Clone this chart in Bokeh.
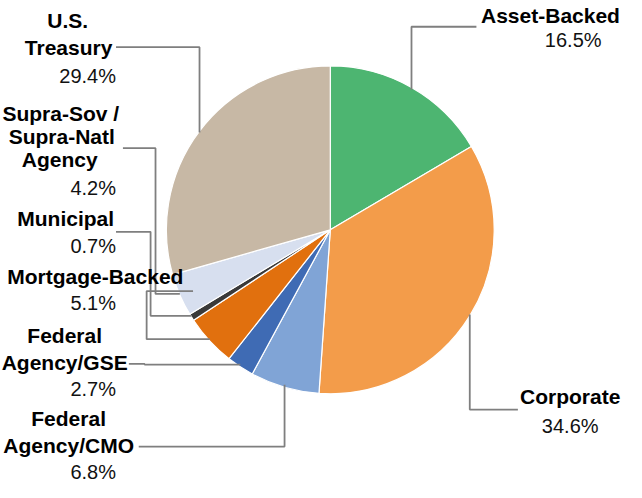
import math
from bokeh.plotting import figure
from bokeh.models import Range1d, ColumnDataSource
from bokeh.core.properties import value
from bokeh.embed import file_html
from bokeh.resources import INLINE

# ---- data ----
categories = ["Asset-Backed", "Corporate", "Federal Agency/CMO", "Federal Agency/GSE",
              "Mortgage-Backed", "Municipal", "Supra-Sov / Supra-Natl Agency", "U.S. Treasury"]
shares = [16.5, 34.6, 6.8, 2.7, 5.1, 0.7, 4.2, 29.4]
name_lines = [["Asset-Backed"], ["Corporate"], ["Federal", "Agency/CMO"], ["Federal", "Agency/GSE"],
              ["Mortgage-Backed"], ["Municipal"], ["Supra-Sov /", "Supra-Natl", "Agency"],
              ["U.S.", "Treasury"]]
colors = ["#4DB571", "#F39C4A", "#80A4D6", "#3F6BB4", "#E1700E", "#3A3A3A", "#D7DFEF", "#C7B8A5"]

# ---- layout (reference pixel coords, y downward) ----
CX, CY, R = 342, 236, 166
H = 498
TDY = -7  # baseline correction for text placement
def Y(s):
    return H - s

name_pos = [
    [(565, 22)],
    [(585, 415)],
    [(77, 437), (77, 465)],
    [(73, 352), (73, 380)],
    [(104, 291)],
    [(74, 231)],
    [(69, 123), (70, 147), (68, 171)],
    [(76, 28), (77, 55)],
]
pct_pos = [(588, 48, "center"), (585, 445, "center"), (125, 492, "right"), (125, 407, "right"),
           (125, 318, "right"), (125, 260, "right"), (125, 200, "right"), (125, 85, "right")]

def leader(i, ax, ay):
    if i == 0:
        return [(ax, ay), (ax, 27), (490, 27)]
    if i == 1:
        return [(ax, ay), (ax, 421), (532, 421)]
    if i == 2:
        return [(ax, ay), (ax, 459), (148, 459)]
    if i == 3:
        return [(ax, ay), (154, ay), (154, 374), (138, 374)]
    if i == 4:
        return [(ax, ay), (156, ay), (156, 299), (203, 299)]
    if i == 5:
        return [(ax, ay), (160, ay), (160, 238), (125, 238)]
    if i == 6:
        return [(ax, ay), (165, ay), (165, 152), (132, 152)]
    return [(ax, ay), (ax, 48), (125, 48)]

total = sum(shares)
starts, ends, lx, ly = [], [], [], []
cum = 0.0
for i, v in enumerate(shares):
    c0 = cum / total
    c1 = (cum + v) / total
    cum += v
    starts.append(math.pi / 2 - 2 * math.pi * c0)
    ends.append(math.pi / 2 - 2 * math.pi * c1)
    mid = (c0 + c1) / 2
    th = math.pi / 2 - 2 * math.pi * mid
    ax = CX + R * math.cos(th)
    ay = CY - R * math.sin(th)
    pts = leader(i, ax, ay)
    lx.append([q[0] for q in pts])
    ly.append([Y(q[1]) for q in pts])

src = ColumnDataSource(dict(cat=categories, share=shares, start=starts, end=ends, color=colors))

p = figure(width=626, height=482, x_range=Range1d(8, 642), y_range=Range1d(2, 498),
           output_backend="svg", toolbar_location=None, min_border=0,
           x_axis_type=None, y_axis_type=None, outline_line_color=None)
p.grid.visible = False
p.background_fill_color = "white"
p.border_fill_color = "white"

p.wedge(x=CX, y=Y(CY), radius=R, start_angle="start", end_angle="end", direction="clock",
        fill_color="color", line_color="white", line_width=1.2, source=src)

p.multi_line(xs=lx, ys=ly, line_color="#7F7F7F", line_width=1.8)

nx, ny, nt = [], [], []
for lines, poss in zip(name_lines, name_pos):
    for t, (x, y) in zip(lines, poss):
        nx.append(x); ny.append(Y(y + TDY)); nt.append(t)
p.text(x=nx, y=ny, text=nt, text_font=value("Liberation Sans"), text_font_style="bold",
       text_font_size="21px", text_align="center", text_baseline="alphabetic", text_color="#000000")

for v, (x, y, al) in zip(shares, pct_pos):
    p.text(x=[x], y=[Y(y + TDY)], text=[f"{v:.1f}%"], text_font=value("Liberation Sans"),
           text_font_size="20px", text_align=al, text_baseline="alphabetic", text_color="#111111")

open("out.html", "w").write(file_html(p, INLINE))
